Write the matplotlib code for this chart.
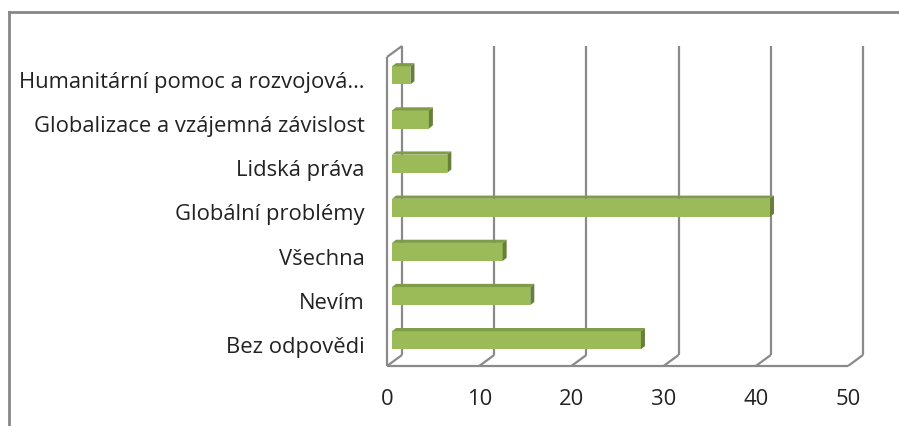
import numpy as np
import matplotlib.pyplot as plt
from matplotlib.patches import Polygon
from matplotlib.lines import Line2D

plt.rcParams['font.family'] = ['Open Sans', 'DejaVu Sans']

# data (bottom to top as drawn)
categories = ["Bez odpovědi", "Nevím", "Všechna", "Globální problémy", "Lidská práva",
              "Globalizace a vzájemná závislost", "Humanitární pomoc a rozvojová…"]
values = [27, 15, 12, 41, 6, 4, 2]
x_ticks = [0, 10, 20, 30, 40, 50]

W, H = 899, 427
fig = plt.figure(figsize=(W / 100, H / 100), dpi=100)
# front plane of the 3d box
ax = fig.add_axes([387 / W, (H - 367) / H, 461 / W, 309 / H])
ax.set_xlim(0, 50)
ax.set_ylim(-0.5, 6.5)
ax.patch.set_visible(False)
for s in ax.spines.values():
    s.set_visible(False)

# pixel -> data units
px = 50 / 461
py = 7 / 309
DX, DY = 15 * px, 11 * py  # full depth of the box

line_kw = dict(color='#8a8a8a', lw=1.6, clip_on=False, zorder=1, solid_capstyle='butt')
# floor + back wall gridlines
ax.plot([0, 50], [-0.5, -0.5], **line_kw)
for t in x_ticks:
    ax.plot([t, t + DX], [-0.5, -0.5 + DY], **line_kw)
    ax.plot([t + DX, t + DX], [-0.5 + DY, 6.5 + DY], **line_kw)
# left wall
ax.plot([0, 0], [-0.5, 6.5], **line_kw)
ax.plot([0, DX], [6.5, 6.5 + DY], **line_kw)

# bars
bx, by = 5 * px, 3.7 * py   # front face offset inside box
dx, dy = 4 * px, 3.2 * py   # bar depth
h = 18 / 44
y = np.arange(len(categories))
ax.barh(y + by, values, height=h, left=bx, color='#9bbb59', edgecolor='none',
        zorder=3, clip_on=False)
for yi, v in zip(y, values):
    top = yi + by + h / 2
    bot = yi + by - h / 2
    ax.add_patch(Polygon([(bx, top), (bx + v, top), (bx + v + dx, top + dy), (bx + dx, top + dy)],
                         closed=True, facecolor='#7f9c47', edgecolor='none', zorder=3, clip_on=False))
    ax.add_patch(Polygon([(bx + v, bot), (bx + v, top), (bx + v + dx, top + dy), (bx + v + dx, bot + dy)],
                         closed=True, facecolor='#66803a', edgecolor='none', zorder=3, clip_on=False))

ax.set_xticks(x_ticks)
ax.set_yticks(y, categories)
ax.tick_params(axis='x', length=0, pad=16, labelsize=15.8, labelcolor='#222222')
ax.tick_params(axis='y', length=0, pad=16, labelsize=15.8, labelcolor='#222222')

# chart frame (only top and left edges visible)
fc = '#878787'
fig.add_artist(Line2D([9 / W, 1], [1 - 12.5 / H] * 2, transform=fig.transFigure, color=fc, lw=2))
fig.add_artist(Line2D([9 / W] * 2, [0, 1 - 12.5 / H], transform=fig.transFigure, color=fc, lw=2))

fig.savefig('out.png', dpi=100)
plt.close(fig)
